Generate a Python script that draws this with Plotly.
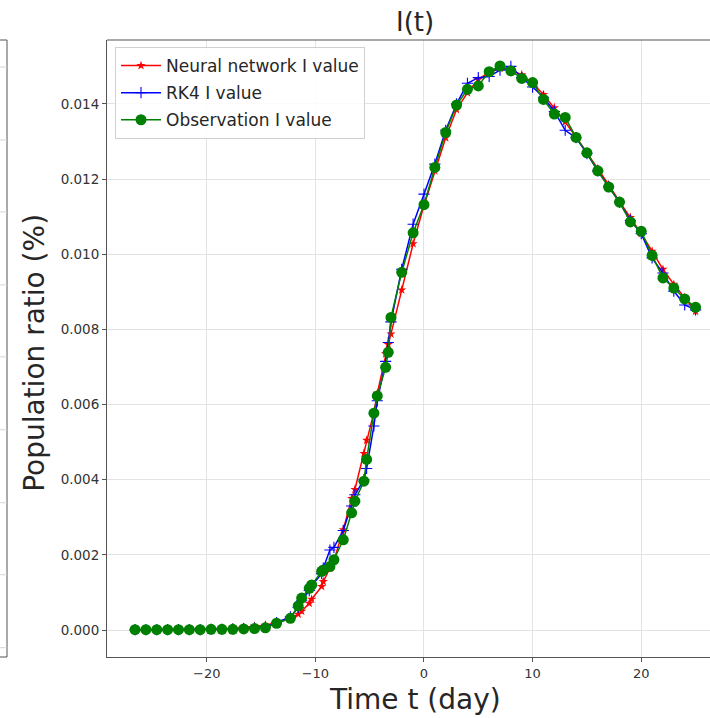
import plotly.graph_objects as go

# ---------------- data ----------------
t_days = [-26.6, -25.6, -24.6, -23.6, -22.6, -21.6, -20.6, -19.6, -18.6, -17.6,
          -16.6, -15.6, -14.6, -13.57, -12.3, -11.58, -11.26, -10.56, -10.34, -9.42,
          -9.27, -8.66, -8.29, -7.43, -6.66, -6.36, -5.53, -5.28, -4.61, -4.3,
          -3.53, -3.29, -3.04, -2.05, -1, 0, 1, 2, 3, 4,
          5, 6, 7, 8, 9, 10, 11, 12, 13, 14,
          15, 16, 17, 18, 19, 20, 21, 22, 23, 24, 25]

nn_I = [0.00000, 0.00000, 0.00001, 0.00001, 0.00001, 0.00001, 0.00002, 0.00002, 0.00003, 0.00004,
        0.00007, 0.00010, 0.00013, 0.00020, 0.00030, 0.00042, 0.00050, 0.00071, 0.00082, 0.00116,
        0.00129, 0.00165, 0.00185, 0.00267, 0.00350, 0.00374, 0.00470, 0.00505, 0.00580, 0.00630,
        0.00735, 0.00760, 0.00788, 0.00905, 0.01028, 0.01130, 0.01222, 0.01310, 0.01385, 0.01430,
        0.01465, 0.01485, 0.01495, 0.01490, 0.01478, 0.01455, 0.01425, 0.01390, 0.01352, 0.01312,
        0.01270, 0.01228, 0.01185, 0.01140, 0.01098, 0.01055, 0.01008, 0.00960, 0.00920, 0.00885, 0.00848]

rk4_I = [0.00001, 0.00001, 0.00001, 0.00001, 0.00001, 0.00001, 0.00001, 0.00002, 0.00002, 0.00003,
         0.00004, 0.00005, 0.00008, 0.00020, 0.00035, 0.00060, 0.00078, 0.00105, 0.00118, 0.00150,
         0.00165, 0.00213, 0.00220, 0.00265, 0.00330, 0.00360, 0.00400, 0.00430, 0.00543, 0.00610,
         0.00715, 0.00765, 0.00820, 0.00960, 0.01080, 0.01160, 0.01240, 0.01330, 0.01400, 0.01455,
         0.01470, 0.01473, 0.01490, 0.01500, 0.01470, 0.01445, 0.01418, 0.01380, 0.01330, 0.01310,
         0.01268, 0.01222, 0.01180, 0.01138, 0.01090, 0.01055, 0.00990, 0.00950, 0.00902, 0.00865, 0.00852]

obs_I = [0.00001, 0.00001, 0.00001, 0.00001, 0.00001, 0.00001, 0.00001, 0.00002, 0.00002, 0.00002,
         0.00003, 0.00004, 0.00006, 0.00018, 0.00031, 0.00064, 0.00085, 0.00111, 0.00120, 0.00156,
         0.00160, 0.00169, 0.00187, 0.00240, 0.00312, 0.00343, 0.00396, 0.00454, 0.00577, 0.00623,
         0.00699, 0.00739, 0.00832, 0.00952, 0.01057, 0.01132, 0.01231, 0.01324, 0.01397, 0.01439,
         0.01448, 0.01486, 0.01501, 0.01488, 0.01468, 0.01457, 0.01412, 0.01373, 0.01364, 0.01311,
         0.01270, 0.01222, 0.01179, 0.01139, 0.01086, 0.01061, 0.00997, 0.00937, 0.00910, 0.00881, 0.00859]

x_tick_vals = [-20, -10, 0, 10, 20]
x_tick_text = ["\u221220", "\u221210", "0", "10", "20"]
y_tick_vals = [0.000, 0.002, 0.004, 0.006, 0.008, 0.010, 0.012, 0.014]
y_tick_text = ["0.000", "0.002", "0.004", "0.006", "0.008", "0.010", "0.012", "0.014"]

# ---------------- layout geometry (pixels) ----------------
W, H = 710, 718
L, T, B_PX = 107, 40, 657.3
PW = W - L
PH = B_PX - T
FONT = "DejaVu Sans"
SPINE = "#555555"
GRID = "#e3e3e3"


def px_x(p):
    return (p - L) / PW


def px_y(p):
    return (B_PX - p) / PH


fig = go.Figure()
fig.add_trace(go.Scatter(
    x=t_days, y=nn_I, mode="lines+markers", name="Neural network I value",
    legendgroup="nn",
    line=dict(color="red", width=1.5),
    marker=dict(symbol="star", size=7, color="red")))
fig.add_trace(go.Scatter(
    x=t_days, y=rk4_I, mode="lines+markers", name="RK4 I value",
    legendgroup="rk4",
    line=dict(color="blue", width=1.5),
    marker=dict(symbol="cross-thin", size=8, color="blue", line=dict(color="blue", width=1.1))))
fig.add_trace(go.Scatter(
    x=t_days, y=obs_I, mode="lines+markers", name="Observation I value",
    legendgroup="obs",
    line=dict(color="green", width=1.5),
    marker=dict(symbol="circle", size=11, color="green")))

shapes = []
# frame of main axes (top); right side is outside the picture
shapes.append(dict(type="line", xref="paper", yref="paper", x0=0, x1=1, y0=1, y1=1,
                   line=dict(color=SPINE, width=1)))
# partial neighbouring panel at far left
xl = px_x(7)
x0l = px_x(-2)
shapes.append(dict(type="line", xref="paper", yref="paper", x0=xl, x1=xl, y0=0, y1=1,
                   line=dict(color=SPINE, width=1)))
shapes.append(dict(type="line", xref="paper", yref="paper", x0=x0l, x1=xl, y0=1, y1=1,
                   line=dict(color=SPINE, width=1)))
shapes.append(dict(type="line", xref="paper", yref="paper", x0=x0l, x1=xl, y0=0, y1=0,
                   line=dict(color=SPINE, width=1)))
for gy in [67, 140, 212, 285, 357, 430, 503, 575, 648]:
    shapes.append(dict(type="line", xref="paper", yref="paper", x0=x0l, x1=xl,
                       y0=px_y(gy), y1=px_y(gy), line=dict(color="#d5d5d5", width=1)))

fig.update_layout(
    width=W, height=H,
    margin=dict(l=L, r=0, t=T, b=H - B_PX, pad=0),
    paper_bgcolor="white", plot_bgcolor="white",
    font=dict(family=FONT, color="#262626"),
    showlegend=True,
    legend=dict(x=px_x(115), y=px_y(47), xanchor="left", yanchor="top",
                bgcolor="rgba(255,255,255,0.85)", bordercolor="#d0d0d0", borderwidth=1,
                font=dict(family=FONT, size=17, color="#262626"),
                traceorder="grouped", itemwidth=40, tracegroupgap=2),
    shapes=shapes,
    annotations=[
        dict(text="I(t)", xref="paper", yref="paper", x=px_x(415), y=px_y(22),
             xanchor="center", yanchor="middle", showarrow=False,
             font=dict(family=FONT, size=26, color="#262626")),
        dict(text="Time t (day)", xref="paper", yref="paper", x=px_x(415), y=px_y(700),
             xanchor="center", yanchor="middle", showarrow=False,
             font=dict(family=FONT, size=28, color="#262626")),
        dict(text="Population ratio (%)", xref="paper", yref="paper", x=px_x(35), y=px_y(353),
             xanchor="center", yanchor="middle", showarrow=False, textangle=-90,
             font=dict(family=FONT, size=28, color="#262626")),
    ],
)

fig.update_xaxes(
    range=[-29.18, 26.33], tickmode="array", tickvals=x_tick_vals, ticktext=x_tick_text,
    showgrid=True, gridcolor=GRID, gridwidth=1, zeroline=False,
    showline=True, linecolor=SPINE, linewidth=1,
    ticks="outside", ticklen=4, tickcolor=SPINE,
    tickfont=dict(family=FONT, size=13, color="#333333"))
fig.update_yaxes(
    range=[-0.000718, 0.015702], tickmode="array", tickvals=y_tick_vals, ticktext=y_tick_text,
    showgrid=True, gridcolor=GRID, gridwidth=1, zeroline=False,
    showline=True, linecolor=SPINE, linewidth=1,
    ticks="outside", ticklen=4, tickcolor=SPINE,
    tickfont=dict(family=FONT, size=13.5, color="#333333"))

fig.write_html("out.html")
